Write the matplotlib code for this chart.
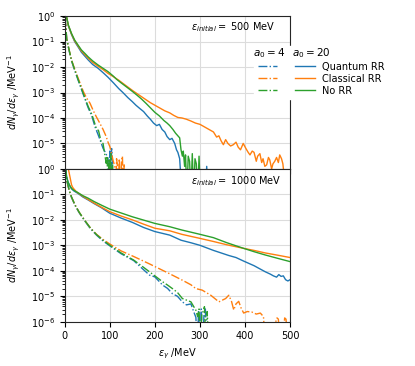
import numpy as np
import matplotlib
matplotlib.use("Agg")
import matplotlib.pyplot as plt
from matplotlib.lines import Line2D

# values, stored as log10(dN/de)
# -7 marks an empty bin (below the axis)

# ---- 500 MeV panel ----
t_q20_E = [0.5, 2, 4, 8, 15, 22, 30, 37, 45, 52, 62, 74, 85, 96, 108, 120, 129, 140, 150, 158, 166, 175,
           183, 190, 197, 204, 210, 216, 222, 227, 233, 238, 244, 248, 251, 255, 260, 312, 315, 318]
t_q20 = [0.3, 0.1, -0.05, -0.38, -0.72, -1.0, -1.22, -1.42, -1.58, -1.72, -1.9, -2.05, -2.22, -2.4, -2.62,
         -2.85, -3.0, -3.2, -3.36, -3.5, -3.62, -3.75, -3.92, -4.05, -4.2, -4.3, -4.25, -4.45, -4.55, -4.73,
         -4.85, -4.8, -5.0, -5.25, -5.35, -5.6, -7, -7, -5.9, -7]

t_c20_E = [0.5, 2, 4, 8, 15, 22, 30, 37, 45, 52, 62, 74, 85, 96, 108, 120, 135, 151, 165, 180, 190, 200,
           212, 222, 233, 242, 251, 260, 270, 280, 290, 300, 310, 320, 330, 337, 342, 347, 352, 357, 362,
           368, 374, 380, 385, 390, 396, 402, 407, 411, 416, 420, 425, 428, 433, 437, 440, 444, 448, 452,
           455, 459, 462, 466, 470, 474, 477, 481, 484, 487, 490]
t_c20 = [0.3, 0.1, -0.02, -0.37, -0.7, -0.97, -1.18, -1.37, -1.52, -1.65, -1.82, -1.97, -2.1, -2.25,
         -2.38, -2.52, -2.72, -2.93, -3.1, -3.28, -3.4, -3.5, -3.62, -3.72, -3.8, -3.9, -3.98, -4.0, -4.05,
         -4.12, -4.2, -4.25, -4.35, -4.45, -4.55, -4.75, -4.7, -4.9, -5.05, -4.85, -5.0, -5.1, -5.05, -4.95,
         -5.15, -5.25, -5.0, -5.2, -5.35, -5.45, -5.3, -5.35, -5.7, -5.5, -5.4, -5.75, -5.6, -5.9, -5.84,
         -5.55, -5.65, -6.0, -5.8, -5.7, -5.55, -5.75, -5.45, -5.6, -5.8, -6.3, -7]

t_n20_E = [0.5, 2, 4, 8, 15, 22, 30, 37, 45, 52, 62, 74, 85, 96, 108, 115, 125, 140, 151, 160, 170, 180,
           190, 200, 210, 220, 227, 233, 240, 246, 251, 255, 258, 261, 263, 266, 268, 271, 274, 277, 280,
           283, 286, 289, 292, 295, 298, 301, 304]
t_n20 = [0.3, 0.1, -0.02, -0.35, -0.68, -0.94, -1.15, -1.33, -1.47, -1.6, -1.76, -1.92, -2.05, -2.18,
         -2.36, -2.48, -2.62, -2.82, -2.97, -3.1, -3.25, -3.42, -3.6, -3.78, -3.92, -4.1, -4.2, -4.3, -4.45,
         -4.6, -4.7, -4.78, -5.25, -5.5, -5.3, -5.9, -5.45, -7, -5.5, -5.7, -7, -5.4, -7, -5.6, -5.8, -7,
         -5.5, -7, -7]

t_q4_E = [0.5, 2.5, 4.4, 10, 15, 22, 30, 41, 52, 60, 67, 75, 85, 90, 96, 98, 100, 102, 104, 106, 108]
t_q4 = [-0.05, -0.47, -0.92, -1.38, -1.76, -2.13, -2.53, -3.07, -3.6, -3.92, -4.34, -4.7, -5.19, -5.35,
        -5.58, -7, -5.3, -7, -5.2, -5.9, -7]

t_c4_E = [0.5, 2.5, 4.4, 10, 15, 22, 30, 41, 48, 56, 63, 70, 78, 85, 92, 96, 100, 104, 107, 111, 113,
          115, 117, 119, 121, 124, 126, 128, 130, 132, 134]
t_c4 = [-0.05, -0.45, -0.9, -1.35, -1.72, -2.08, -2.45, -2.95, -3.2, -3.42, -3.7, -3.95, -4.21, -4.45,
        -4.73, -4.95, -5.12, -5.4, -5.65, -5.9, -7, -5.6, -5.9, -7, -5.6, -7, -5.7, -5.5, -7, -5.8, -7]

t_n4_E = [0.5, 2.5, 4.4, 10, 15, 22, 30, 41, 52, 60, 70, 75, 81, 85, 89, 92, 94, 96, 98, 100, 102, 104,
          106, 108]
t_n4 = [-0.05, -0.45, -0.9, -1.35, -1.73, -2.1, -2.5, -3.03, -3.55, -3.85, -4.4, -4.5, -4.95, -5.0,
        -5.45, -5.78, -5.5, -7, -5.6, -7, -5.4, -7, -5.8, -7]

# ---- 1000 MeV panel ----
b_q20_E = [0.5, 2, 4, 7, 10, 15, 20, 30, 40, 52, 65, 81, 100, 125, 150, 175, 200, 233, 258, 280, 300,
           330, 364, 380, 397, 420, 445, 456, 463, 470, 475, 480, 485, 490, 495, 500]
b_q20 = [0.3, 0.05, -0.3, -0.5, -0.63, -0.78, -0.86, -0.97, -1.1, -1.22, -1.36, -1.52, -1.74, -1.93,
         -2.1, -2.3, -2.46, -2.6, -2.8, -2.9, -3.0, -3.2, -3.4, -3.48, -3.62, -3.8, -4.04, -4.13, -4.2,
         -4.25, -4.15, -4.22, -4.2, -4.35, -4.4, -4.35]

b_c20_E = [0.5, 4, 8, 12, 15, 17, 19, 25, 30, 40, 52, 65, 81, 100, 125, 150, 175, 200, 233, 260, 298,
           330, 360, 397, 420, 445, 470, 500]
b_c20 = [0.3, 0.1, 0.0, -0.35, -0.62, -0.7, -0.76, -0.88, -0.95, -1.07, -1.2, -1.34, -1.5, -1.68, -1.85,
         -2.0, -2.17, -2.33, -2.43, -2.57, -2.72, -2.85, -2.98, -3.12, -3.2, -3.3, -3.38, -3.48]

b_n20_E = [0.5, 2, 4, 7, 10, 15, 20, 30, 40, 52, 65, 81, 100, 125, 150, 175, 200, 233, 260, 298, 330,
           360, 397, 420, 445, 470, 500]
b_n20 = [0.3, 0.05, -0.3, -0.5, -0.62, -0.76, -0.84, -0.94, -1.05, -1.15, -1.28, -1.42, -1.58, -1.73,
         -1.88, -2.01, -2.14, -2.27, -2.4, -2.56, -2.7, -2.9, -3.12, -3.25, -3.38, -3.5, -3.64]

b_q4_E = [0.5, 2.5, 4.4, 10, 15, 22.7, 32, 44.7, 57, 70.5, 85, 100, 125, 153, 170, 188, 200, 217, 228,
          239, 250, 261, 270, 280, 286, 291, 294, 297, 300, 303, 306, 309, 312, 315]
b_q4 = [0.1, -0.2, -0.43, -0.86, -1.12, -1.43, -1.72, -2.05, -2.35, -2.6, -2.83, -3.02, -3.33, -3.6,
        -3.88, -4.17, -4.24, -4.56, -4.69, -4.9, -5.0, -5.22, -5.34, -5.3, -5.6, -5.83, -7, -5.6, -7, -5.5,
        -7, -5.7, -5.5, -7]

b_c4_E = [0.5, 2.5, 4.4, 10, 15, 22.7, 32, 44.7, 57, 70.5, 85, 100, 125, 153, 170, 188, 210, 232, 261,
          280, 291, 305, 324, 342, 357, 364, 370, 375, 380, 386, 391, 397, 405, 415, 425, 434, 441, 445,
          450, 471, 474, 478, 482, 488, 491, 495]
b_c4 = [0.1, -0.2, -0.42, -0.85, -1.1, -1.41, -1.7, -2.03, -2.32, -2.57, -2.77, -2.95, -3.22, -3.44,
        -3.58, -3.73, -3.92, -4.11, -4.37, -4.55, -4.7, -4.76, -4.96, -5.22, -5.09, -4.96, -5.2, -5.54,
        -5.3, -5.2, -5.45, -5.66, -5.6, -5.62, -5.7, -5.66, -5.8, -7, -7, -5.85, -5.9, -7, -7, -5.85,
        -5.9, -7]

b_n4_E = [0.5, 2.5, 4.4, 10, 15, 22.7, 32, 44.7, 57, 70.5, 85, 100, 125, 153, 170, 188, 200, 217, 228,
          239, 250, 261, 270, 280, 286, 291, 295, 298, 301, 304, 307, 310, 313, 316, 320]
b_n4 = [0.1, -0.2, -0.42, -0.85, -1.1, -1.41, -1.7, -2.03, -2.32, -2.58, -2.8, -3.0, -3.3, -3.58, -3.8,
        -4.04, -4.2, -4.43, -4.56, -4.7, -4.85, -5.09, -5.15, -5.22, -5.4, -5.55, -5.8, -5.5, -7, -5.7,
        -5.6, -5.41, -7, -5.6, -7]

labels = ["Quantum RR", "Classical RR", "No RR"]
colors = ["tab:blue", "tab:orange", "tab:green"]

plt.rcParams["font.size"] = 7
fig, (ax1, ax2) = plt.subplots(2, 1, sharex=True, figsize=(4.15, 3.66), dpi=100)
fig.subplots_adjust(left=0.156, right=0.699, top=0.956, bottom=0.121, hspace=0)

panels = [
    (ax1, [(t_q4_E, t_q4), (t_c4_E, t_c4), (t_n4_E, t_n4)],
     [(t_q20_E, t_q20), (t_c20_E, t_c20), (t_n20_E, t_n20)], "500 MeV", 0.926),
    (ax2, [(b_q4_E, b_q4), (b_c4_E, b_c4), (b_n4_E, b_n4)],
     [(b_q20_E, b_q20), (b_c20_E, b_c20), (b_n20_E, b_n20)], "1000 MeV", 0.917),
]

for ax, dash, solid, e0, ty in panels:
    for (x, y), c in zip(dash, colors):
        ax.plot(x, 10.0 ** np.array(y), "-.", color=c, lw=1)
    for (x, y), c in zip(solid, colors):
        ax.plot(x, 10.0 ** np.array(y), "-", color=c, lw=1)
    ax.set_yscale("log")
    ax.set_ylim(1e-6, 1)
    ax.set_xlim(0, 500)
    ax.grid(True, color="#dcdcdc", lw=0.8)
    ax.set_axisbelow(True)
    ax.set_ylabel(r"$dN_\gamma/d\varepsilon_\gamma$ /MeV$^{-1}$")
    ax.yaxis.set_label_coords(-0.19, 0.5)
    ax.text(0.56, ty, r"$\varepsilon_{initial} =$ " + e0, transform=ax.transAxes,
            ha="left", va="center")
    for s in ax.spines.values():
        s.set_color("0.15")

ax1.set_yticks([1e-5, 1e-4, 1e-3, 1e-2, 1e-1, 1e0])
ax2.set_xticks([0, 100, 200, 300, 400, 500])
ax2.set_xlabel(r"$\varepsilon_\gamma$ /MeV")

# legend: left column a0=4 (dash-dot), right column a0=20 (solid)
blank = Line2D([], [], color="none")
h4 = [Line2D([], [], ls="-.", color=c, lw=1) for c in colors]
h20 = [Line2D([], [], ls="-", color=c, lw=1) for c in colors]
leg = fig.legend([blank] + h4 + [blank] + h20, ["", "", "", ""] + [""] + labels,
                 ncol=2, loc="upper left", bbox_to_anchor=(249 / 415, 1 - 41 / 366),
                 frameon=True, fancybox=False, framealpha=1, edgecolor="white",
                 columnspacing=1.05, handlelength=2.0, labelspacing=0.2, fontsize=7)
fig.text(253 / 415, 1 - 53 / 366, r"$a_0 = 4$", va="center", fontsize=7.5, zorder=10)
fig.text(292 / 415, 1 - 53 / 366, r"$a_0 = 20$", va="center", fontsize=7.5, zorder=10)

fig.savefig("out.png", dpi=100)
